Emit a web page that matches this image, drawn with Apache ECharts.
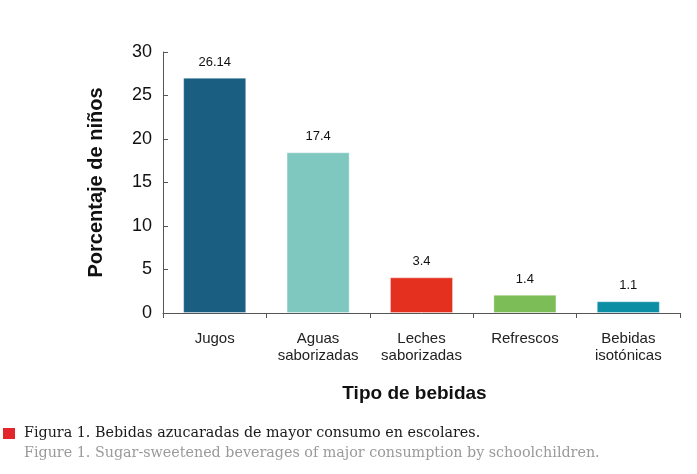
<!DOCTYPE html>
<html><head><meta charset="utf-8">
<script src="https://cdn.jsdelivr.net/npm/echarts@6/dist/echarts.min.js"></script>
<style>html,body{margin:0;padding:0;background:#fff}#c{width:697px;height:474px}</style>
</head><body><div id="c"></div>
<script>
const categories = ['Jugos', 'Aguas\nsaborizadas', 'Leches\nsaborizadas', 'Refrescos', 'Bebidas\nisotónicas'];
const barValues = [27.05, 18.47, 4.1, 2.1, 1.35];
const labelTexts = ['26.14', '17.4', '3.4', '1.4', '1.1'];
const barColors = ['#1a5e82', '#7fc8bf', '#e3301f', '#7cbd57', '#0c8ea4'];
const yTicks = [0, 5, 10, 15, 20, 25, 30];

const chart = echarts.init(document.getElementById('c'));
chart.setOption({
  animation: false,
  grid: {left: 163, right: 17, top: 52, bottom: 161},
  xAxis: {
    type: 'category', data: categories,
    axisLine: {lineStyle: {color: '#555', width: 1}},
    axisTick: {show: true, interval: 0, length: 5, lineStyle: {color: '#555'}},
    axisLabel: {interval: 0, fontFamily: 'Liberation Sans', fontSize: 15, color: '#222', lineHeight: 17, margin: 17},
    name: 'Tipo de bebidas', nameLocation: 'middle', nameGap: 71,
    nameTextStyle: {fontFamily: 'Liberation Sans', fontSize: 19, fontWeight: 'bold', color: '#111', padding: [0, 14, 0, 0]}
  },
  yAxis: {
    type: 'value', min: 0, max: 30, interval: 5,
    axisLine: {show: true, lineStyle: {color: '#555', width: 1}},
    axisTick: {show: true, inside: true, length: 5, lineStyle: {color: '#555'}},
    splitLine: {show: false},
    axisLabel: {fontFamily: 'Liberation Sans', fontSize: 18, color: '#111', margin: 11,
      formatter: v => yTicks.includes(v) ? String(v) : ''},
    name: 'Porcentaje de niños', nameLocation: 'middle', nameGap: 57,
    nameTextStyle: {fontFamily: 'Liberation Sans', fontSize: 20, fontWeight: 'bold', color: '#111'}
  },
  series: [{
    type: 'bar', barCategoryGap: '39%',
    data: barValues.map((v, i) => ({value: v, itemStyle: {color: barColors[i]}})),
    itemStyle: {borderColor: 'rgba(255,255,255,0.35)', borderWidth: 1},
    label: {show: true, position: 'top', distance: 9, fontFamily: 'Liberation Sans', fontSize: 13, color: '#111',
      formatter: p => labelTexts[p.dataIndex]}
  }],
  graphic: [
    {type: 'rect', shape: {x: 3, y: 428, width: 12, height: 11}, style: {fill: '#e3262b'}},
    {type: 'text', left: 24, top: 426, style: {text: 'Figura 1. Bebidas azucaradas de mayor consumo en escolares.', font: '14.3px "DejaVu Serif"', fill: '#1a1a1a'}},
    {type: 'text', left: 24, top: 446, style: {text: 'Figure 1. Sugar-sweetened beverages of major consumption by schoolchildren.', font: '14.3px "DejaVu Serif"', fill: '#9a9a9a'}}
  ]
});
</script></body></html>
